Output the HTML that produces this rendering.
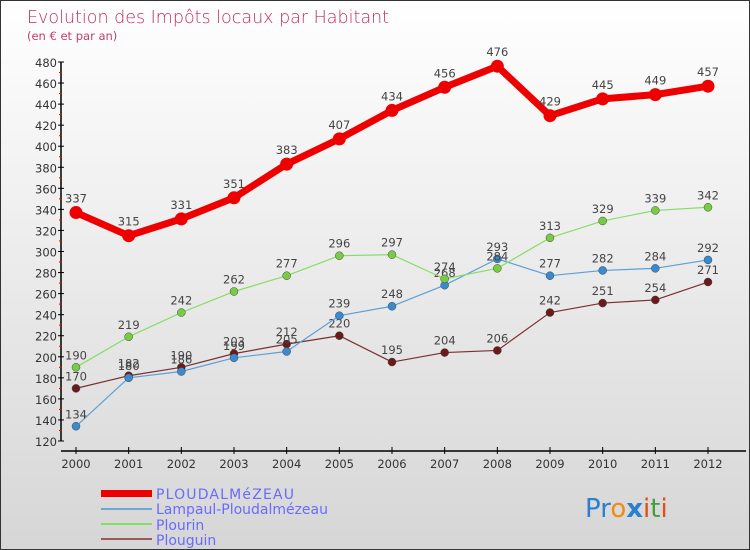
<!DOCTYPE html>
<html><head><meta charset="utf-8"><style>
body{margin:0}
#c{width:750px;height:550px;position:relative;box-sizing:border-box;border:1px solid #333;background:linear-gradient(#fff,#d6d6d6);font-family:"DejaVu Sans","Liberation Sans",sans-serif;overflow:hidden}
</style></head><body>
<div id="c">
<svg id="s" width="750" height="550" style="position:absolute;left:0;top:0">
<text x="26" y="22" font-size="17.5" fill="#c0305a" font-family="DejaVu Sans, sans-serif" font-weight="200" textLength="362">Evolution des Impôts locaux par Habitant</text>
<text x="26" y="39" font-size="11.5" fill="#c0406a">(en € et par an)</text>
<g id="axes"></g><g id="series"></g>
<g>
<rect x="100" y="489" width="51" height="7" fill="#e00"/>
<text x="155" y="498" font-size="14" fill="#6a6aff" textLength="138">PLOUDALMéZEAU</text>
<rect x="100" y="507" width="51" height="2" fill="#6ea6d0"/>
<text x="155" y="513" font-size="14" fill="#6a6aff" textLength="172">Lampaul-Ploudalmézeau</text>
<rect x="100" y="522" width="51" height="2" fill="#88dd66"/>
<text x="155" y="529" font-size="14" fill="#6a6aff">Plourin</text>
<rect x="100" y="537" width="51" height="2" fill="#9a5a5a"/>
<text x="155" y="544" font-size="14" fill="#6a6aff">Plouguin</text>
</g>
<text x="584" y="516" font-size="26" font-family="DejaVu Sans, sans-serif"><tspan fill="#2a7fd0">Pr</tspan><tspan fill="#f08a10">o</tspan><tspan fill="#2a7fd0" font-weight="bold">x</tspan><tspan fill="#e05010">i</tspan><tspan fill="#40a040">t</tspan><tspan fill="#e05010">i</tspan></text>
</svg>
</div>
<script>
const years=[2000,2001,2002,2003,2004,2005,2006,2007,2008,2009,2010,2011,2012];
const ploudalmezeau=[337,315,331,351,383,407,434,456,476,429,445,449,457];
const lampaul=[134,180,186,199,205,239,248,268,293,277,282,284,292];
const plourin=[190,219,242,262,277,296,297,274,284,313,329,339,342];
const plouguin=[170,182,190,203,212,220,195,204,206,242,251,254,271];
const yTicks=[120,140,160,180,200,220,240,260,280,300,320,340,360,380,400,420,440,460,480];
const NS="http://www.w3.org/2000/svg";
const xs=i=>75+i*(707-75)/12;
const ys=v=>440-(v-120)*(440-61)/360;
function mk(t,a,p){const e=document.createElementNS(NS,t);for(const k in a)e.setAttribute(k,a[k]);p.appendChild(e);return e;}
const ax=document.getElementById('axes');
const yl=mk('line',{x1:60,y1:ys(480),x2:60,y2:440,stroke:'#000','stroke-width':1.5},ax);


const xl=mk('line',{x1:60,y1:450,x2:745,y2:450,stroke:'#000','stroke-width':1.5},ax);


yTicks.forEach((v,i)=>{
 mk('line',{x1:57,x2:63,y1:ys(v),y2:ys(v),stroke:'#000'},ax);
 if(i<yTicks.length-1)mk('line',{x1:58,x2:61,y1:ys(v+10),y2:ys(v+10),stroke:'#e00'},ax);
 const t=mk('text',{x:56,y:ys(v)+5,'text-anchor':'end','font-size':11.5,fill:'#333'},ax);t.textContent=v;
 
 
});
years.forEach((y,i)=>{
 mk('line',{x1:xs(i),x2:xs(i),y1:446,y2:453,stroke:'#000'},ax);
 const t=mk('text',{x:xs(i),y:467,'text-anchor':'middle','font-size':11.5,fill:'#333'},ax);t.textContent=y;
 
 
});
const sg=document.getElementById('series');
function draw(vals,color,dot,w,r,name){
 const g=mk('g',{},sg);
 
 
 const l=mk('polyline',{points:vals.map((v,i)=>xs(i)+','+ys(v)).join(' '),fill:'none',stroke:color,'stroke-width':w,'stroke-linejoin':'round'},g);
 
 
 vals.forEach((v,i)=>{
  const c=mk('circle',{cx:xs(i),cy:ys(v),r:r,fill:dot,stroke:w>3?'none':'#444','stroke-width':0.5},g);
  
  
  const t=mk('text',{x:xs(i),y:ys(v)-(w>3?10:8),'text-anchor':'middle','font-size':11.5,fill:'#444'},g);t.textContent=v;
  
  
 });
}
draw(plouguin,'#7a3030','#6a1a1a',1.2,4,'plouguin');
draw(lampaul,'#5aa0d8','#3a8ad0',1.2,4,'lampaul');
draw(plourin,'#88dd66','#77cc44',1.2,4,'plourin');
draw(ploudalmezeau,'#ee0000','#ee0000',7,6.5,'ploudalmezeau');
</script>
</body></html>
